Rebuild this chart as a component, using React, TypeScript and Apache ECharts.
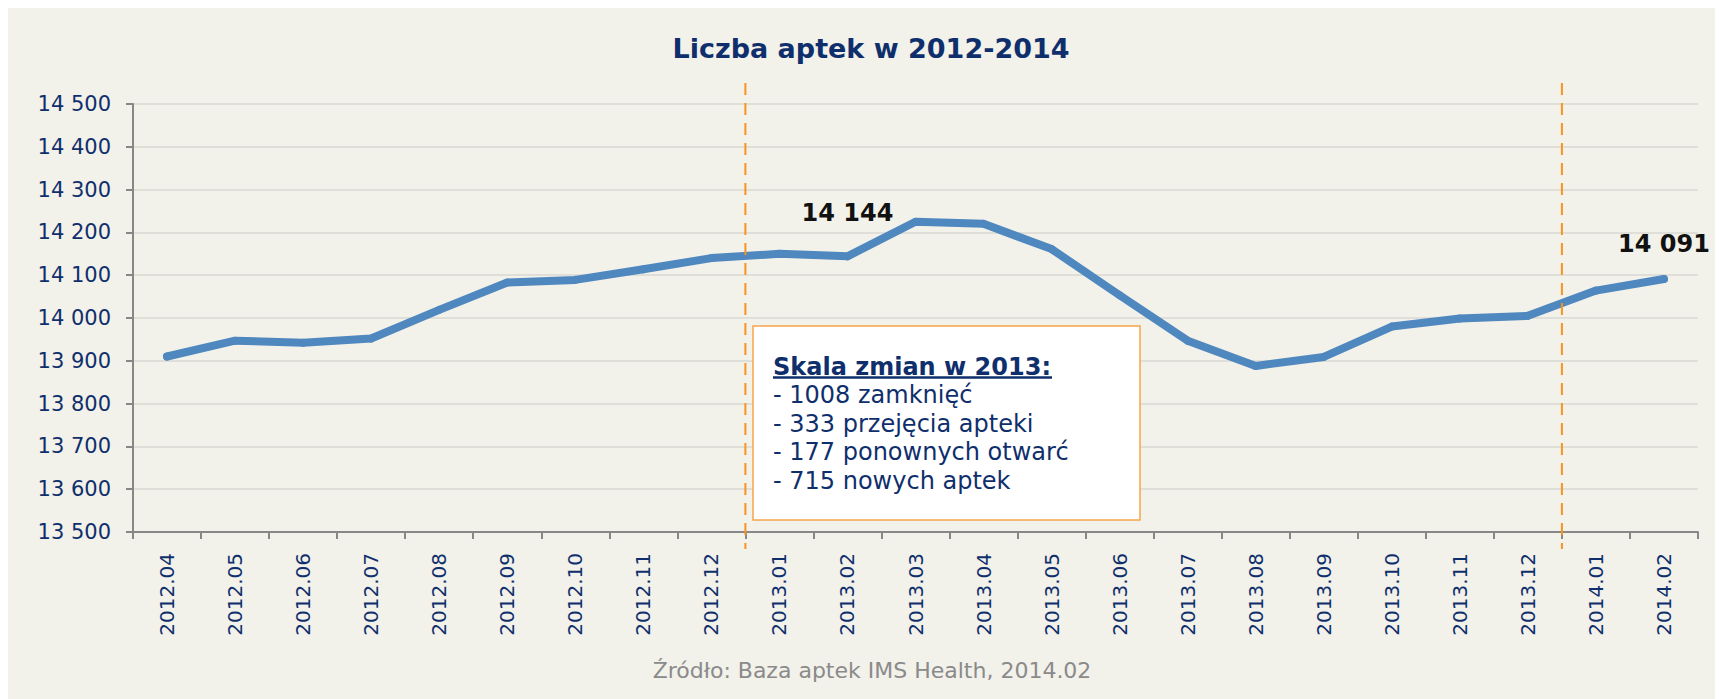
import React, { useEffect, useRef } from 'react';
import * as echarts from 'echarts';

const titleText = 'Liczba aptek w 2012-2014';
const sourceText = 'Źródło: Baza aptek IMS Health, 2014.02';

const categories = [
  '2012.04', '2012.05', '2012.06', '2012.07', '2012.08', '2012.09', '2012.10', '2012.11', '2012.12',
  '2013.01', '2013.02', '2013.03', '2013.04', '2013.05', '2013.06', '2013.07', '2013.08', '2013.09',
  '2013.10', '2013.11', '2013.12', '2014.01', '2014.02',
];
const values = [
  13910, 13947, 13942, 13952, 14019, 14083, 14089, 14114, 14140,
  14150, 14144, 14225, 14220, 14161, 14053, 13947, 13888, 13909,
  13980, 13999, 14005, 14064, 14091,
];
const labelledMonths = ['2013.02', '2014.02'];
const dividerAfter = ['2012.12', '2013.12'];
const yMin = 13500;
const yMax = 14500;
const yStep = 100;

const boxTitle = 'Skala zmian w 2013:';
const boxLines = [
  '- 1008 zamknięć',
  '- 333 przejęcia apteki',
  '- 177 ponownych otwarć',
  '- 715 nowych aptek',
];

const FONT = '"DejaVu Sans", Verdana, sans-serif';
const NAVY = '#0F2F6C';
const labelDistance: Record<string, number> = { '2013.02': 27, '2014.02': 19 };

const fmt = (v: number) => String(v).replace(/\B(?=(\d{3})+(?!\d))/g, ' ');

export default function App() {
  const ref = useRef<HTMLDivElement>(null);
  useEffect(() => {
    document.documentElement.style.overflow = 'hidden';
    const chart = echarts.init(ref.current!, undefined, { renderer: 'svg' });
    const option: any = {
      animation: false,
      backgroundColor: '#F2F1EA',
      grid: { left: 125, right: 25, top: 96, bottom: 167 },
      xAxis: {
        type: 'category',
        data: categories,
        boundaryGap: true,
        axisLine: { lineStyle: { color: '#878787', width: 2 } },
        axisTick: { show: true, length: 7, lineStyle: { color: '#878787', width: 2 } },
        axisLabel: {
          rotate: 90,
          margin: 21,
          color: NAVY,
          fontFamily: FONT,
          fontSize: 20,
        },
        splitLine: { show: false },
      },
      yAxis: {
        type: 'value',
        min: yMin,
        max: yMax,
        interval: yStep,
        axisLine: { show: true, lineStyle: { color: '#878787', width: 2 } },
        axisTick: { show: true, length: 7, lineStyle: { color: '#878787', width: 2 } },
        axisLabel: {
          margin: 22,
          color: NAVY,
          fontFamily: FONT,
          fontSize: 21,
          formatter: (v: number) => fmt(v),
        },
        splitLine: { show: true, lineStyle: { color: '#DFDED8', width: 2 } },
      },
      series: [
        {
          type: 'line',
          data: values.map((v, i) => {
            const c = categories[i];
            if (labelledMonths.includes(c)) {
              return {
                value: v,
                label: {
                  show: true,
                  position: 'top',
                  distance: labelDistance[c],
                  formatter: (p: any) => fmt(p.value),
                  color: '#111111',
                  fontFamily: FONT,
                  fontWeight: 'bold',
                  fontSize: 24,
                },
              };
            }
            return v;
          }),
          symbol: 'circle',
          symbolSize: 8,
          showSymbol: true,
          showAllSymbol: true,
          lineStyle: { color: '#4F87BF', width: 8, cap: 'round', join: 'round' },
          itemStyle: { color: '#4F87BF', borderWidth: 0 },
          z: 3,
        },
      ],
    };
    chart.setOption(option);

    const yTop = chart.convertToPixel({ yAxisIndex: 0 }, yMax) as number;
    const yBottom = chart.convertToPixel({ yAxisIndex: 0 }, yMin) as number;
    const dividers = dividerAfter.map((c) => {
      const i = categories.indexOf(c);
      const a = chart.convertToPixel({ xAxisIndex: 0 }, categories[i]) as number;
      const b = chart.convertToPixel({ xAxisIndex: 0 }, categories[i + 1]) as number;
      const x = (a + b) / 2;
      return {
        type: 'line',
        z: 10,
        shape: { x1: x, y1: yTop - 21, x2: x, y2: yBottom + 17 },
        style: { stroke: '#F7941E', lineWidth: 2, lineDash: [12, 8] },
      };
    });

    const boxX = 745;
    const boxY = 318;
    const textX = 765;
    const lineY0 = 359;
    const lineH = 28.4;

    chart.setOption({
      graphic: [
        {
          type: 'text',
          x: 863,
          y: 40,
          style: {
            text: titleText,
            fill: NAVY,
            font: `bold 27px ${FONT}`,
            textAlign: 'center',
            textVerticalAlign: 'middle',
          },
        },
        {
          type: 'text',
          x: 864,
          y: 662,
          style: {
            text: sourceText,
            fill: '#8A8A8A',
            font: `22px ${FONT}`,
            textAlign: 'center',
            textVerticalAlign: 'middle',
          },
        },
        ...dividers,
        {
          type: 'rect',
          z: 20,
          shape: { x: boxX, y: boxY, width: 387, height: 194 },
          style: { fill: '#FFFFFF', stroke: '#F6A54C', lineWidth: 1.5 },
        },
        {
          type: 'text',
          z: 21,
          x: textX,
          y: lineY0,
          style: {
            text: boxTitle,
            fill: NAVY,
            font: `bold 24px ${FONT}`,
            textAlign: 'left',
            textVerticalAlign: 'middle',
          },
        },
        {
          type: 'line',
          z: 21,
          shape: { x1: textX, y1: 369.5, x2: textX + 279, y2: 369.5 },
          style: { stroke: NAVY, lineWidth: 2.5 },
        },
        ...boxLines.map((t, i) => ({
          type: 'text',
          z: 21,
          x: textX,
          y: lineY0 + lineH * (i + 1),
          style: {
            text: t,
            fill: NAVY,
            font: `24px ${FONT}`,
            textAlign: 'left',
            textVerticalAlign: 'middle',
          },
        })),
      ],
    });

    return () => chart.dispose();
  }, []);
  return <div ref={ref} style={{ width: 1715, height: 691 }} />;
}
